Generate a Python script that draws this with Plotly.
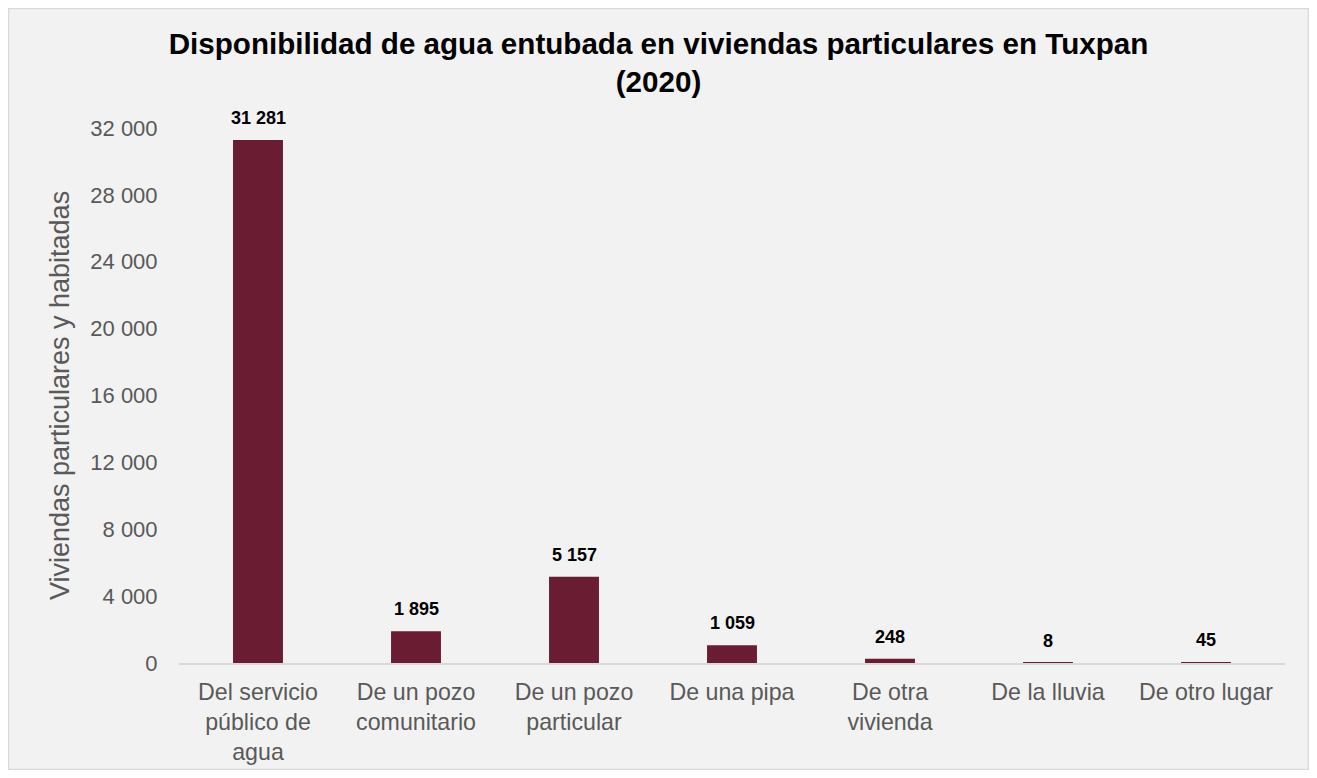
import plotly.graph_objects as go

categories = ["Del servicio<br>público de<br>agua", "De un pozo<br>comunitario", "De un pozo<br>particular",
              "De una pipa", "De otra<br>vivienda", "De la lluvia", "De otro lugar"]
values = [31281, 1895, 5157, 1059, 248, 8, 45]
y_ticks = [0, 4000, 8000, 12000, 16000, 20000, 24000, 28000, 32000]

# page has an 8px body margin on each side; keep the document inside the window
W, H = 1301, 762
L, R, T, B = 171, 24, 120, 107
pw, ph = W - L - R, H - T - B

FONT = "Liberation Sans, Arial, sans-serif"

fig = go.Figure(go.Bar(
    x=categories, y=values,
    marker=dict(color="#691C32", line=dict(width=0)),
    width=0.316,
    hoverinfo="x+y",
))

annotations = []
for c, v in zip(categories, values):
    annotations.append(dict(
        x=c, y=v, xref="x", yref="y", text=f"{v:,}".replace(",", " "),
        showarrow=False, yanchor="middle", yshift=22,
        font=dict(family=FONT, size=18, color="#000000", weight="bold"),
    ))

fig.update_layout(
    width=W, height=H,
    margin=dict(l=L, r=R, t=T, b=B, autoexpand=False),
    paper_bgcolor="#FFFFFF", plot_bgcolor="rgba(0,0,0,0)",
    separators=", ",
    font=dict(family=FONT, color="#595959"),
    title=dict(text="Disponibilidad de agua entubada en viviendas particulares en Tuxpan<br>(2020)",
               x=0.5, xanchor="center", y=1 - 46 / H, yanchor="top", xref="container", yref="container",
               automargin=False,
               font=dict(family=FONT, size=29.6, color="#000000", weight="bold")),
    showlegend=False,
    annotations=annotations,
    shapes=[dict(type="rect", xref="paper", yref="paper", layer="below",
                 x0=(0.5 - L) / pw, x1=(W - 0.5 - L) / pw,
                 y0=(H - B - (H - 0.5)) / ph, y1=(H - B - 0.5) / ph,
                 fillcolor="#F2F2F2", line=dict(color="#D9D9D9", width=1.5))],
)

fig.update_yaxes(range=[0, 32000], tickvals=y_ticks, tickformat=",", automargin=False,
                 showgrid=False, zeroline=False, showline=False,
                 ticks="outside", ticklen=16, tickcolor="rgba(0,0,0,0)",
                 tickfont=dict(family=FONT, size=22, color="#595959"),
                 title=dict(text="Viviendas particulares y habitadas",
                            font=dict(family=FONT, size=27, color="#595959"), standoff=12))
fig.update_xaxes(showgrid=False, showline=True, linecolor="#D9D9D9", linewidth=2, automargin=False,
                 ticks="outside", ticklen=7, tickcolor="rgba(0,0,0,0)",
                 tickfont=dict(family=FONT, size=23.2, color="#595959"), tickangle=0)

fig.write_html("out.html")
